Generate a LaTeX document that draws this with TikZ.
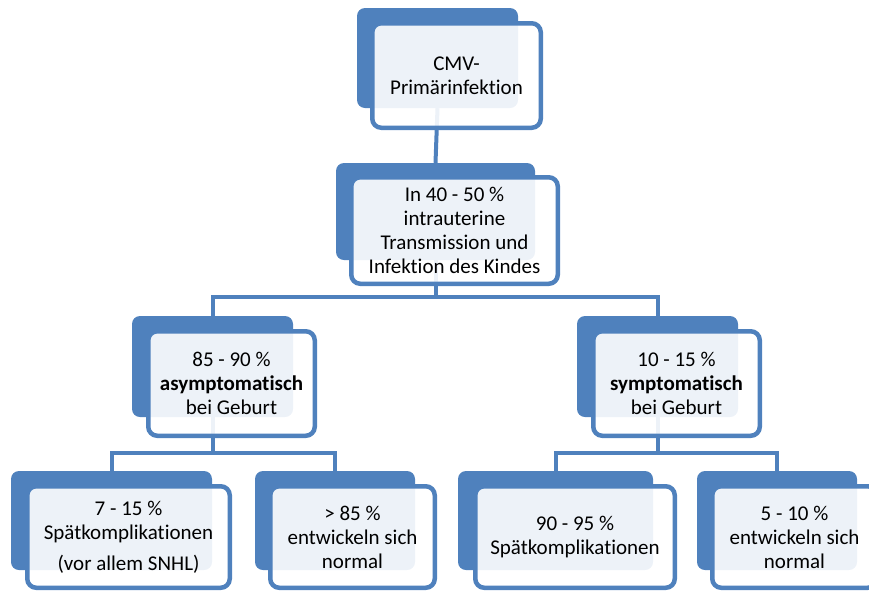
\documentclass[tikz,border=0pt]{standalone}
\usepackage{fontspec}
\setmainfont[Ligatures=NoCommon]{Carlito}
\usepackage{tikz}
\usetikzlibrary{positioning}
\definecolor{smartblue}{RGB}{79,129,189}
\tikzset{
    backbox/.style={fill=smartblue, rounded corners=8pt, inner sep=0pt},
    frontbox/.style={draw=smartblue, line width=4.5pt, fill=white, fill opacity=0.9,
        text opacity=1, rounded corners=9pt, inner sep=0pt, align=center,
        font=\fontsize{21}{24}\selectfont},
    conn/.style={draw=smartblue, line width=4pt},
}

\begin{document}
\begin{tikzpicture}[x=1pt, y=-1pt]
	\useasboundingbox (0,0) rectangle (869,590);
	% back panels
	\node[backbox, minimum width=161pt, minimum height=100pt] (cmvb) at (437.5,58) {};
	\node[backbox, minimum width=199pt, minimum height=97pt] (infb) at (435.5,211.5) {};
	\node[backbox, minimum width=161pt, minimum height=101pt] (asymb) at (212.5,366.5) {};
	\node[backbox, minimum width=161pt, minimum height=101pt] (symb) at (657.5,366.5) {};
	\node[backbox, minimum width=201pt, minimum height=99pt] (spaetab) at (111.5,520.5) {};
	\node[backbox, minimum width=160pt, minimum height=99pt] (normab) at (335,520.5) {};
	\node[backbox, minimum width=195pt, minimum height=99pt] (spaetsb) at (555.5,520.5) {};
	\node[backbox, minimum width=160pt, minimum height=99pt] (normsb) at (777,520.5) {};
	% connectors
	\coordinate (busa) at (435.5,297);
	\coordinate (busb) at (212.5,453);
	\coordinate (busc) at (657.5,453);
	\draw[conn] (cmvb.south) -- (infb.north);
	\draw[conn] (infb.south) -- (busa);
	\draw[conn] (asymb.north) |- (busa) -| (symb.north);
	\draw[conn] (asymb.south) -- (busb);
	\draw[conn] (spaetab.north) |- (busb) -| (normab.north);
	\draw[conn] (symb.south) -- (busc);
	\draw[conn] (spaetsb.north) |- (busc) -| (normsb.north);
	% front boxes
	\node[frontbox, minimum width=168.5pt, minimum height=104.5pt] (cmv) at (456.5,75.5)
		{CMV-\\Primärinfektion};
	\node[frontbox, minimum width=206.5pt, minimum height=106.5pt] (inf) at (454.5,230.5)
		{In 40 - 50 \%\\intrauterine\\Transmission und\\Infektion des Kindes};
	\node[frontbox, minimum width=166.5pt, minimum height=104.5pt] (asym) at (231.5,383.5)
		{85 - 90 \%\\\textbf{asymptomatisch}\\bei Geburt};
	\node[frontbox, minimum width=166.5pt, minimum height=104.5pt] (sym) at (676.5,383.5)
		{10 - 15 \%\\\textbf{symptomatisch}\\bei Geburt};
	\node[frontbox, minimum width=202.5pt, minimum height=101.5pt] (spaeta) at (128.5,537)
		{7 - 15 \%\\Spätkomplikationen\\[7pt](vor allem SNHL)};
	\node[frontbox, minimum width=164.5pt, minimum height=101.5pt] (norma) at (352.5,537)
		{> 85 \%\\entwickeln sich\\normal};
	\node[frontbox, minimum width=199.5pt, minimum height=101.5pt] (spaets) at (575,537)
		{90 - 95 \%\\Spätkomplikationen};
	\node[frontbox, minimum width=164.5pt, minimum height=101.5pt] (norms) at (794.5,537)
		{5 - 10 \%\\entwickeln sich\\normal};
\end{tikzpicture}
\end{document}
